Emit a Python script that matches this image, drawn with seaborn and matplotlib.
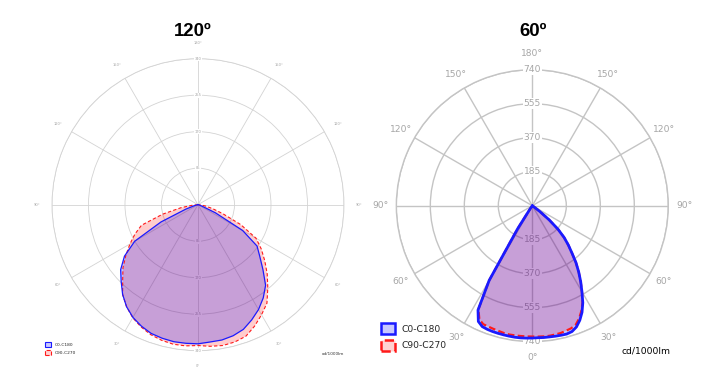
import numpy as np
import matplotlib
matplotlib.use("Agg")
import matplotlib.pyplot as plt
import seaborn as sns
from matplotlib.patches import Patch

sns.set_style("white")
plt.rcParams['font.family'] = ['DejaVu Sans']

# --- 120º luminaire (cd/1000lm), gamma angles every 5 degrees
angles_120 = [0, 5, 10, 15, 20, 25, 30, 35, 40, 45, 50, 55, 60, 65, 70, 75, 80, 85, 90]
c0_120   = [322, 321, 320, 316, 309, 296, 282, 265, 245, 214, 188, 168, 120, 45, 10, 3, 0, 0, 0]
c180_120 = [324, 324, 324, 322, 319, 312, 303, 290, 273, 253, 235, 209, 170, 95, 30, 8, 2, 0, 0]
c90_120  = [328, 331, 333, 331, 326, 312, 296, 280, 253, 228, 203, 180, 156, 110, 62, 35, 18, 6, 0]
c270_120 = [328, 330, 330, 327, 322, 314, 304, 290, 273, 248, 228, 205, 183, 162, 140, 85, 40, 12, 0]
rings_120 = [85, 170, 255, 340]

# --- 60º luminaire (cd/1000lm), gamma angles every 2.5 degrees
angles_60 = [0, 2.5, 5, 7.5, 10, 12.5, 15, 17.5, 20, 22.5, 25, 27.5, 30,
             32.5, 35, 37.5, 40, 42.5, 45, 47.5, 50, 52.5, 55, 57.5, 60]
c0_60   = [718, 719, 720, 720, 721, 722, 723, 718, 702, 675, 640, 595, 540,
           490, 440, 390, 335, 290, 245, 190, 120, 50, 10, 0, 0]
c180_60 = [720, 721, 722, 722, 721, 720, 719, 718, 716, 712, 695, 640, 470,
           150, 20, 0, 0, 0, 0, 0, 0, 0, 0, 0, 0]
c90_60  = [712, 713, 714, 714, 712, 710, 705, 700, 690, 665, 632, 592, 540,
           490, 440, 390, 335, 290, 245, 190, 120, 50, 10, 0, 0]
c270_60 = [712, 712, 712, 712, 712, 710, 706, 703, 700, 698, 682, 635, 470,
           150, 20, 0, 0, 0, 0, 0, 0, 0, 0, 0, 0]
rings_60 = [185, 370, 555, 740]

titles = ['120º', '60º']
series_names = ['C0-C180', 'C90-C270']


def half_planes(angles, right, left):
    # left half drawn with negative angle, right half positive (0 = straight down)
    g = np.array(angles, dtype=float)
    theta = np.radians(np.concatenate([-g[::-1], g[1:]]))
    r = np.concatenate([np.array(left, float)[::-1], np.array(right, float)[1:]])
    return theta, r


def draw_chart(ax, angles, c0, c180, c90, c270, rings, fs, grid_lw, grid_col,
               blue_lw, red_lw, dash, pad):
    ax.set_theta_zero_location('S')
    ax.set_theta_direction(1)
    ax.set_axisbelow(True)

    th_b, r_b = half_planes(angles, c0, c180)
    th_r, r_r = half_planes(angles, c90, c270)

    ax.fill(th_r, r_r, color='red', alpha=0.2, lw=0, zorder=2.7)
    ax.fill(th_b, r_b, color='blue', alpha=0.22, lw=0, zorder=2.8)
    sns.lineplot(x=th_r, y=r_r, ax=ax, sort=False, estimator=None, color='#ff1a1a',
                 lw=red_lw, linestyle=(0, dash), zorder=3)
    sns.lineplot(x=th_b, y=r_b, ax=ax, sort=False, estimator=None, color='#1a1aff',
                 lw=blue_lw, zorder=3.1)

    ax.set_ylim(0, rings[-1])
    ax.set_yticks(rings)
    ax.set_yticklabels([])
    ticks = list(range(0, 360, 30))
    ax.set_xticks(np.radians(ticks))
    ax.set_xticklabels([f'{min(t, 360 - t)}°' for t in ticks])
    ax.tick_params(axis='x', pad=pad, labelsize=fs, colors='#a6a6a6')
    ax.grid(True, color=grid_col, lw=grid_lw)
    ax.spines['polar'].set_color(grid_col)
    ax.spines['polar'].set_linewidth(grid_lw)
    ax.set_xlabel('')
    ax.set_ylabel('')

    for rv in rings:
        for th in (np.pi, 0.0):
            ax.text(th, rv, str(rv), ha='center', va='center', fontsize=fs,
                    color='#a6a6a6', zorder=2.6,
                    bbox=dict(boxstyle='square,pad=0.1', fc='white', ec='none'))


fig = plt.figure(figsize=(7.28, 3.76), dpi=100)

ax1 = fig.add_axes([0.0714, 0.0673, 0.4011, 0.7766], projection='polar')
draw_chart(ax1, angles_120, c0_120, c180_120, c90_120, c270_120, rings_120,
           fs=2.6, grid_lw=0.6, grid_col='#d3d3d3', blue_lw=0.9, red_lw=0.8,
           dash=(3, 2), pad=0.5)

ax2 = fig.add_axes([0.5444, 0.0912, 0.3736, 0.7234], projection='polar')
draw_chart(ax2, angles_60, c0_60, c180_60, c90_60, c270_60, rings_60,
           fs=6.6, grid_lw=1.0, grid_col='#c4c4c4', blue_lw=2.0, red_lw=1.6,
           dash=(3, 1.5), pad=1)

# titles
fig.text(193 / 728, 1 - 35.5 / 376, titles[0], ha='center', va='baseline', color='black',
         fontsize=13.4, fontweight='bold', family='Liberation Sans')
fig.text(533 / 728, 1 - 35.5 / 376, titles[1], ha='center', va='baseline', color='black',
         fontsize=13.4, fontweight='bold', family='Liberation Sans')


def legend_handles(lw):
    return [Patch(facecolor='#c8c8ff', edgecolor='#1a1aff', lw=lw),
            Patch(facecolor='#ffd2d2', edgecolor='#ff1a1a', lw=lw, linestyle='--')]


fig.legend(handles=legend_handles(0.8), labels=series_names, loc='upper left',
           bbox_to_anchor=(45 / 728, 1 - 342 / 376), frameon=False, fontsize=3.2,
           handlelength=1.4, handleheight=1.4, labelspacing=0.7, handletextpad=0.7,
           borderpad=0, borderaxespad=0)
fig.legend(handles=legend_handles(1.8), labels=series_names, loc='upper left',
           bbox_to_anchor=(381 / 728, 1 - 323 / 376), frameon=False, fontsize=6.6,
           handlelength=1.5, handleheight=1.5, labelspacing=0.6, handletextpad=0.7,
           borderpad=0, borderaxespad=0)

fig.text(333 / 728, 1 - 354 / 376, 'cd/1000lm', ha='center', va='center', fontsize=3.1, color='#333333')
fig.text(646 / 728, 1 - 351 / 376, 'cd/1000lm', ha='center', va='center', fontsize=6.6, color='black')

fig.savefig('out.png', dpi=100, facecolor='white')
